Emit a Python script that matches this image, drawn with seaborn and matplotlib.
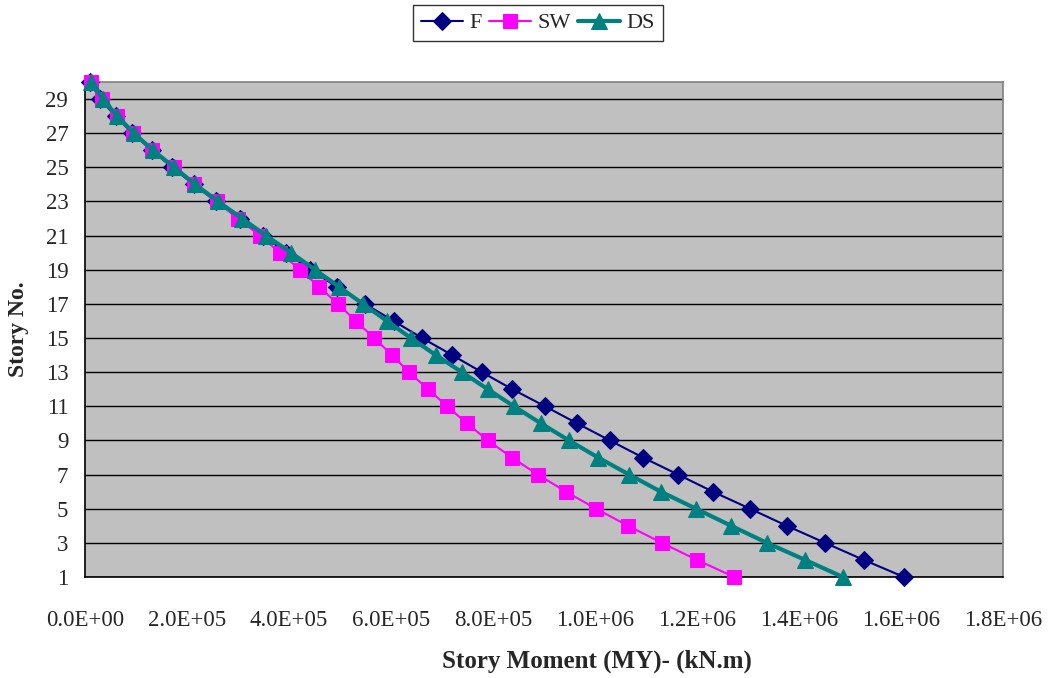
import matplotlib
matplotlib.use("Agg")
import matplotlib.pyplot as plt
import seaborn as sns
import pandas as pd

stories = list(range(1, 31))
F = [1.606e6, 1.527e6, 1.451e6, 1.376e6, 1.304e6, 1.231e6, 1.163e6, 1.094e6, 1.029e6, 0.965e6,
     0.902e6, 0.838e6, 0.778e6, 0.720e6, 0.661e6, 0.605e6, 0.549e6, 0.494e6, 0.442e6, 0.395e6,
     0.349e6, 0.303e6, 0.257e6, 0.213e6, 0.171e6, 0.131e6, 0.093e6, 0.060e6, 0.030e6, 0.010e6]
SW = [1.273e6, 1.200e6, 1.131e6, 1.065e6, 1.002e6, 0.943e6, 0.888e6, 0.837e6, 0.790e6, 0.749e6,
      0.710e6, 0.673e6, 0.635e6, 0.602e6, 0.567e6, 0.531e6, 0.496e6, 0.459e6, 0.422e6, 0.382e6,
      0.343e6, 0.300e6, 0.258e6, 0.214e6, 0.175e6, 0.131e6, 0.094e6, 0.062e6, 0.033e6, 0.011e6]
DS = [1.486e6, 1.412e6, 1.337e6, 1.267e6, 1.198e6, 1.129e6, 1.067e6, 1.006e6, 0.949e6, 0.894e6,
      0.841e6, 0.790e6, 0.739e6, 0.688e6, 0.639e6, 0.592e6, 0.545e6, 0.498e6, 0.451e6, 0.404e6,
      0.355e6, 0.308e6, 0.261e6, 0.216e6, 0.175e6, 0.133e6, 0.096e6, 0.063e6, 0.035e6, 0.012e6]
x_ticks = [0, 2e5, 4e5, 6e5, 8e5, 1e6, 1.2e6, 1.4e6, 1.6e6, 1.8e6]
x_tick_labels = ["0.0E+00", "2.0E+05", "4.0E+05", "6.0E+05", "8.0E+05",
                 "1.0E+06", "1.2E+06", "1.4E+06", "1.6E+06", "1.8E+06"]
y_ticks = list(range(1, 30, 2))

sns.set_style("white")
plt.rcParams['font.family'] = ['Liberation Serif', 'DejaVu Serif']

fig = plt.figure(figsize=(10.52, 6.78), dpi=100)
ax = fig.add_axes([85/1052, 1 - 577/678, (1003-85)/1052, (577-82)/678])
ax.set_facecolor("#C0C0C0")

styles = [
    ("F", F, "#000080", "D", 9, 1.5),
    ("SW", SW, "#FF00FF", "s", 10, 1.5),
    ("DS", DS, "#008080", "^", 11, 3.0),
]
for name, vals, col, mk, ms, lw in styles:
    df = pd.DataFrame({"moment": vals, "story": stories})
    sns.lineplot(data=df, x="moment", y="story", sort=False, ax=ax, color=col,
                 marker=mk, markersize=ms, markeredgecolor=col, linewidth=lw,
                 label=name, clip_on=False, zorder=3)

ax.set_xlim(0, 1.8e6)
ax.set_ylim(1, 30)
ax.set_xticks(x_ticks)
ax.set_xticklabels(x_tick_labels, fontsize=16.5)
ax.set_yticks(y_ticks)
ax.set_yticklabels([str(v) for v in y_ticks], fontsize=16.5)
ax.yaxis.grid(True, color="black", linewidth=1)
ax.xaxis.grid(False)
ax.tick_params(axis="both", direction="out", length=6, width=1, color="black")
ax.tick_params(axis="x", pad=18)
ax.tick_params(axis="y", pad=6)
for s in ["left", "bottom"]:
    ax.spines[s].set_color("black")
    ax.spines[s].set_linewidth(1.2)
for s in ["top", "right"]:
    ax.spines[s].set_color("#808080")
    ax.spines[s].set_linewidth(1.2)

ax.set_xlabel("Story Moment (MY)- (kN.m)", fontsize=18, fontweight="bold")
ax.xaxis.set_label_coords((597 - 85) / 918, (577 - 650) / 495)
ax.set_ylabel("Story No.", fontsize=17, fontweight="bold", labelpad=12)

leg = ax.legend(loc="upper center", bbox_to_anchor=(538/1052, 1 - 5/678),
                bbox_transform=fig.transFigure, ncol=3, frameon=True, fontsize=16,
                fancybox=False, edgecolor="black", handlelength=1.9, columnspacing=0.3,
                handletextpad=0.3, borderpad=0.35, borderaxespad=0)
leg.get_frame().set_linewidth(1.0)

fig.savefig("out.png", dpi=100, facecolor="white")
